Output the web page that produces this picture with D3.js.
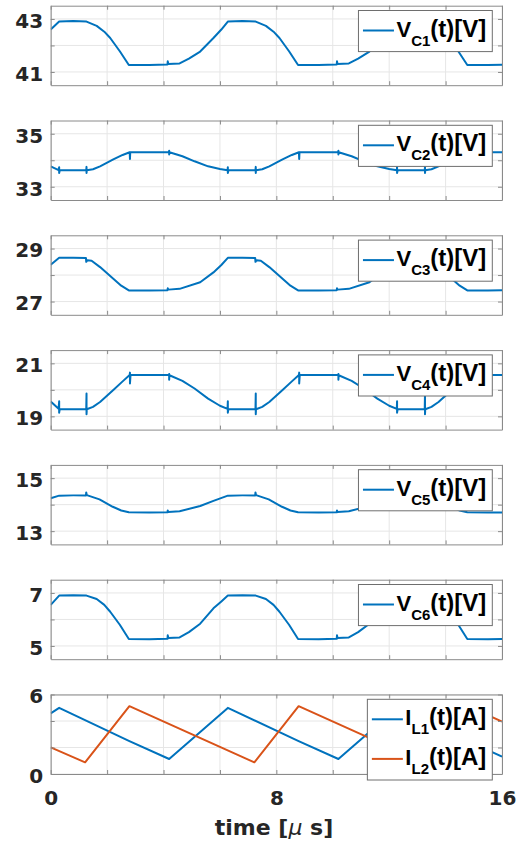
<!DOCTYPE html>
<html>
<head>
<meta charset="utf-8">
<script src="https://cdn.jsdelivr.net/npm/d3@7"></script>
<style>
  body { margin: 0; background: #fff; }
  svg { display: block; }
</style>
</head>
<body>
<svg id="chart"></svg>
<script>
// readings, [time in us, value]
const vc1 = [[0,42.6],[0.3,42.9],[0.8,42.92],[1.27,42.9],[1.63,42.74],[1.9,42.52],[2.11,42.28],[2.45,41.78],[2.77,41.26],[3.5,41.26],[4.14,41.28],[4.15,41.4],[4.17,41.3],[4.57,41.32],[4.9,41.5],[5.3,41.77],[5.77,42.28],[6.05,42.6],[6.28,42.9],
  [6.8,42.92],[7.27,42.9],[7.63,42.74],[7.9,42.52],[8.11,42.28],[8.45,41.78],[8.77,41.26],[9.5,41.26],[10.14,41.28],[10.15,41.4],[10.17,41.3],[10.57,41.32],[10.9,41.5],[11.3,41.77],[11.77,42.28],[12.05,42.6],[12.28,42.9],
  [12.8,42.92],[13.27,42.9],[13.63,42.74],[13.9,42.52],[14.11,42.28],[14.45,41.78],[14.77,41.26],[15.5,41.26],[16,41.27]];

const vc2 = [[0,33.77],[0.28,33.63],[0.3,33.74],[0.3,33.52],[0.32,33.62],[0.8,33.62],[1.26,33.62],[1.27,33.75],[1.27,33.52],[1.28,33.62],[1.5,33.66],[1.75,33.77],[2.22,34.03],[2.55,34.2],[2.8,34.3],[2.81,34.05],[2.82,34.3],[3.5,34.3],[4.19,34.3],[4.2,34.36],[4.2,34.22],[4.21,34.3],[4.67,34.15],[5.1,33.96],[5.58,33.77],[6.0,33.67],[6.27,33.62],
  [6.28,33.74],[6.28,33.52],[6.3,33.62],[6.8,33.62],[7.26,33.62],[7.27,33.75],[7.27,33.52],[7.28,33.62],[7.5,33.66],[7.75,33.77],[8.22,34.03],[8.55,34.2],[8.8,34.3],[8.81,34.05],[8.82,34.3],[9.5,34.3],[10.19,34.3],[10.2,34.36],[10.2,34.22],[10.21,34.3],[10.67,34.15],[11.1,33.96],[11.58,33.77],[12.0,33.67],[12.27,33.62],
  [12.28,33.74],[12.28,33.52],[12.3,33.62],[12.8,33.62],[13.26,33.62],[13.27,33.75],[13.27,33.52],[13.28,33.62],[13.5,33.66],[13.75,33.77],[14.22,34.03],[14.55,34.2],[14.8,34.3],[14.81,34.05],[14.82,34.3],[15.5,34.3],[16,34.3]];

const vc3 = [[0,28.39],[0.3,28.65],[0.8,28.65],[1.25,28.64],[1.26,28.5],[1.3,28.56],[1.45,28.54],[1.75,28.3],[2.22,27.86],[2.5,27.6],[2.77,27.42],[3.5,27.42],[4.14,27.43],[4.15,27.5],[4.17,27.45],[4.57,27.48],[5.3,27.73],[5.77,28.1],[6.05,28.38],[6.28,28.65],
  [6.8,28.65],[7.25,28.64],[7.26,28.5],[7.3,28.56],[7.45,28.54],[7.75,28.3],[8.22,27.86],[8.5,27.6],[8.77,27.42],[9.5,27.42],[10.14,27.43],[10.15,27.5],[10.17,27.45],[10.57,27.48],[11.3,27.73],[11.77,28.1],[12.05,28.38],[12.28,28.65],
  [12.8,28.65],[13.25,28.64],[13.26,28.5],[13.3,28.56],[13.45,28.54],[13.75,28.3],[14.22,27.86],[14.5,27.6],[14.77,27.42],[15.5,27.42],[16,27.43]];

const vc4 = [[0,19.56],[0.28,19.29],[0.3,19.57],[0.3,19.14],[0.32,19.27],[0.8,19.27],[1.26,19.27],[1.27,19.86],[1.27,19.08],[1.28,19.27],[1.5,19.36],[1.75,19.54],[2.22,19.99],[2.55,20.32],[2.8,20.56],[2.81,20.65],[2.81,20.24],[2.83,20.56],[3.5,20.56],[4.19,20.56],[4.2,20.6],[4.2,20.38],[4.21,20.55],[4.67,20.34],[5.1,20.05],[5.58,19.67],[6.0,19.4],[6.27,19.28],
  [6.28,19.57],[6.28,19.14],[6.3,19.27],[6.8,19.27],[7.26,19.27],[7.27,19.86],[7.27,19.08],[7.28,19.27],[7.5,19.36],[7.75,19.54],[8.22,19.99],[8.55,20.32],[8.8,20.56],[8.81,20.65],[8.81,20.24],[8.83,20.56],[9.5,20.56],[10.19,20.56],[10.2,20.6],[10.2,20.38],[10.21,20.55],[10.67,20.34],[11.1,20.05],[11.58,19.67],[12.0,19.4],[12.27,19.28],
  [12.28,19.57],[12.28,19.14],[12.3,19.27],[12.8,19.27],[13.26,19.27],[13.27,19.86],[13.27,19.08],[13.28,19.27],[13.5,19.36],[13.75,19.54],[14.22,19.99],[14.55,20.32],[14.8,20.56],[14.81,20.65],[14.81,20.24],[14.83,20.56],[15.5,20.56],[16,20.56]];

const vc5 = [[0,14.24],[0.3,14.34],[0.8,14.35],[1.25,14.35],[1.26,14.46],[1.28,14.36],[1.73,14.2],[2.2,13.92],[2.5,13.78],[2.77,13.71],[3.5,13.7],[4.14,13.71],[4.15,13.78],[4.17,13.72],[4.57,13.75],[5.3,13.95],[5.77,14.14],[6.28,14.34],
  [6.8,14.35],[7.25,14.35],[7.26,14.46],[7.28,14.36],[7.73,14.2],[8.2,13.92],[8.5,13.78],[8.77,13.71],[9.5,13.7],[10.14,13.71],[10.15,13.78],[10.17,13.72],[10.57,13.75],[11.3,13.95],[11.77,14.14],[12.28,14.34],
  [12.8,14.35],[13.25,14.35],[13.26,14.46],[13.28,14.36],[13.73,14.2],[14.2,13.92],[14.5,13.78],[14.77,13.71],[15.5,13.7],[16,13.7]];

const vc6 = [[0,6.55],[0.3,6.9],[0.8,6.91],[1.27,6.9],[1.63,6.77],[1.9,6.55],[2.11,6.29],[2.45,5.8],[2.77,5.26],[3.5,5.25],[4.14,5.27],[4.15,5.4],[4.17,5.3],[4.57,5.32],[4.9,5.52],[5.3,5.84],[5.77,6.42],[6.05,6.68],[6.28,6.9],
  [6.8,6.91],[7.27,6.9],[7.63,6.77],[7.9,6.55],[8.11,6.29],[8.45,5.8],[8.77,5.26],[9.5,5.25],[10.14,5.27],[10.15,5.4],[10.17,5.3],[10.57,5.32],[10.9,5.52],[11.3,5.84],[11.77,6.42],[12.05,6.68],[12.28,6.9],
  [12.8,6.91],[13.27,6.9],[13.63,6.77],[13.9,6.55],[14.11,6.29],[14.45,5.8],[14.77,5.26],[15.5,5.25],[16,5.26]];

const il1 = [[0,4.57],[0.3,4.99],[2.79,2.48],[4.2,1.13],[6.28,4.99],[8.79,2.48],[10.2,1.13],[12.28,4.99],[14.79,2.48],[16,1.31]];
const il2 = [[0,2.01],[1.22,0.88],[2.79,5.12],[7.22,0.88],[8.79,5.12],[13.22,0.88],[14.79,5.12],[16,3.95]];

const xGrid = [0, 2, 4, 6, 8, 10, 12, 14, 16];
const xLabels = [0, 8, 16];

const panels = [
  { domain: [40.5, 43.5], ticks: [41, 42, 43], labels: [41, 43], series: [vc1], legend: [["V", "C1", "(t)[V]"]] },
  { domain: [32.5, 35.5], ticks: [33, 34, 35], labels: [33, 35], series: [vc2], legend: [["V", "C2", "(t)[V]"]] },
  { domain: [26.5, 29.5], ticks: [27, 28, 29], labels: [27, 29], series: [vc3], legend: [["V", "C3", "(t)[V]"]] },
  { domain: [18.5, 21.5], ticks: [19, 20, 21], labels: [19, 21], series: [vc4], legend: [["V", "C4", "(t)[V]"]] },
  { domain: [12.5, 15.5], ticks: [13, 14, 15], labels: [13, 15], series: [vc5], legend: [["V", "C5", "(t)[V]"]] },
  { domain: [4.5, 7.5],   ticks: [5, 6, 7],    labels: [5, 7],   series: [vc6], legend: [["V", "C6", "(t)[V]"]] },
  { domain: [0, 6],       ticks: [0, 2, 4, 6], labels: [0, 6],   series: [il1, il2], legend: [["I", "L1", "(t)[A]"], ["I", "L2", "(t)[A]"]] }
];

const colors = ["#0072BD", "#D95319"];

const W = 521, H = 850;
const svg = d3.select("#chart").attr("width", W).attr("height", H);

const x = d3.scaleLinear().domain([0, 16]).range([50.7, 502]);
const panelH = 79.5;
const panelTop = i => 5.7 + i * 114.8;

const tickFont = "'DejaVu Sans', sans-serif";
const legendFont = "'Liberation Sans', Arial, Helvetica, sans-serif";

function styleAxis(g) {
  g.select(".domain").attr("stroke", "#8a8a8a");
  g.selectAll(".tick line").attr("stroke", "#8a8a8a");
  g.selectAll("text")
    .attr("font-family", tickFont)
    .attr("font-size", 20)
    .attr("font-weight", "bold")
    .attr("fill", "#262626");
}

panels.forEach((p, i) => {
  const top = panelTop(i);
  const bottom = top + panelH;
  const y = d3.scaleLinear().domain(p.domain).range([bottom, top]);
  const g = svg.append("g");

  // grid
  g.append("g").selectAll("line").data(xGrid).join("line")
    .attr("x1", d => x(d)).attr("x2", d => x(d))
    .attr("y1", top).attr("y2", bottom)
    .attr("stroke", "#e6e6e6");
  g.append("g").selectAll("line").data(p.ticks).join("line")
    .attr("x1", x(0)).attr("x2", x(16))
    .attr("y1", d => y(d)).attr("y2", d => y(d))
    .attr("stroke", "#e6e6e6");

  // traces
  svg.append("clipPath").attr("id", "clip" + i)
    .append("rect").attr("x", x(0)).attr("y", top)
    .attr("width", x(16) - x(0)).attr("height", panelH);

  const line = d3.line().x(d => x(d[0])).y(d => y(d[1]));
  p.series.forEach((s, j) => {
    g.append("path").datum(s)
      .attr("clip-path", `url(#clip${i})`)
      .attr("d", line)
      .attr("fill", "none")
      .attr("stroke", colors[j])
      .attr("stroke-width", 2)
      .attr("stroke-linejoin", "round");
  });

  // axes, ticks pointing inward
  const last = i === panels.length - 1;
  g.append("g").attr("transform", `translate(0,${bottom})`)
    .call(d3.axisBottom(x).tickValues(xGrid).tickSize(-4).tickSizeOuter(0).tickPadding(17)
      .tickFormat(d => last && xLabels.includes(d) ? d : ""))
    .call(styleAxis);
  g.append("g").attr("transform", `translate(0,${top})`)
    .call(d3.axisTop(x).tickValues(xGrid).tickSize(-4).tickSizeOuter(0).tickFormat(""))
    .call(styleAxis);
  g.append("g").attr("transform", `translate(${x(0)},0)`)
    .call(d3.axisLeft(y).tickValues(p.ticks).tickSize(-4).tickSizeOuter(0).tickPadding(7.5)
      .tickFormat(d => p.labels.includes(d) ? d : ""))
    .call(styleAxis)
    .selectAll("text").attr("dy", "0.42em");
  g.append("g").attr("transform", `translate(${x(16)},0)`)
    .call(d3.axisRight(y).tickValues(p.ticks).tickSize(-4).tickSizeOuter(0).tickFormat(""))
    .call(styleAxis);

  // legend
  const rowH = 39.6;
  const leg = svg.append("g");
  const box = leg.append("rect")
    .attr("y", top + 4.8)
    .attr("height", p.legend.length * rowH + 1.5)
    .attr("fill", "#fff").attr("stroke", "#6e6e6e").attr("stroke-width", 1);
  let maxW = 0;
  const rows = p.legend.map((e, r) => {
    const ly = top + 4.8 + 20 + r * rowH;
    const rg = leg.append("g");
    rg.append("line").attr("class", "sample")
      .attr("y1", ly).attr("y2", ly)
      .attr("stroke", colors[r]).attr("stroke-width", 2);
    const t = rg.append("text")
      .attr("y", ly + 6)
      .attr("font-family", legendFont)
      .attr("font-weight", "bold")
      .attr("fill", "#000");
    t.append("tspan").attr("font-size", 22).text(e[0]);
    t.append("tspan").attr("font-size", 15).attr("dy", 9).text(e[1]);
    t.append("tspan").attr("font-size", 24).attr("dy", -9).text(e[2]);
    maxW = Math.max(maxW, t.node().getComputedTextLength());
    return rg;
  });
  const right = 492.3;
  const left = right - (38 + maxW + 6);
  box.attr("x", left).attr("width", right - left);
  rows.forEach(rg => {
    rg.select("line").attr("x1", left + 4.5).attr("x2", left + 35.5);
    rg.select("text").attr("x", left + 38);
  });
});

// x axis title
const xt = svg.append("text")
  .attr("x", 274).attr("y", 835)
  .attr("text-anchor", "middle")
  .attr("font-family", tickFont)
  .attr("font-size", 22)
  .attr("font-weight", "bold")
  .attr("fill", "#262626");
xt.append("tspan").text("time [");
xt.append("tspan").attr("font-style", "italic").attr("font-weight", "normal").text("\u03bc");
xt.append("tspan").text(" s]");
</script>
</body>
</html>
